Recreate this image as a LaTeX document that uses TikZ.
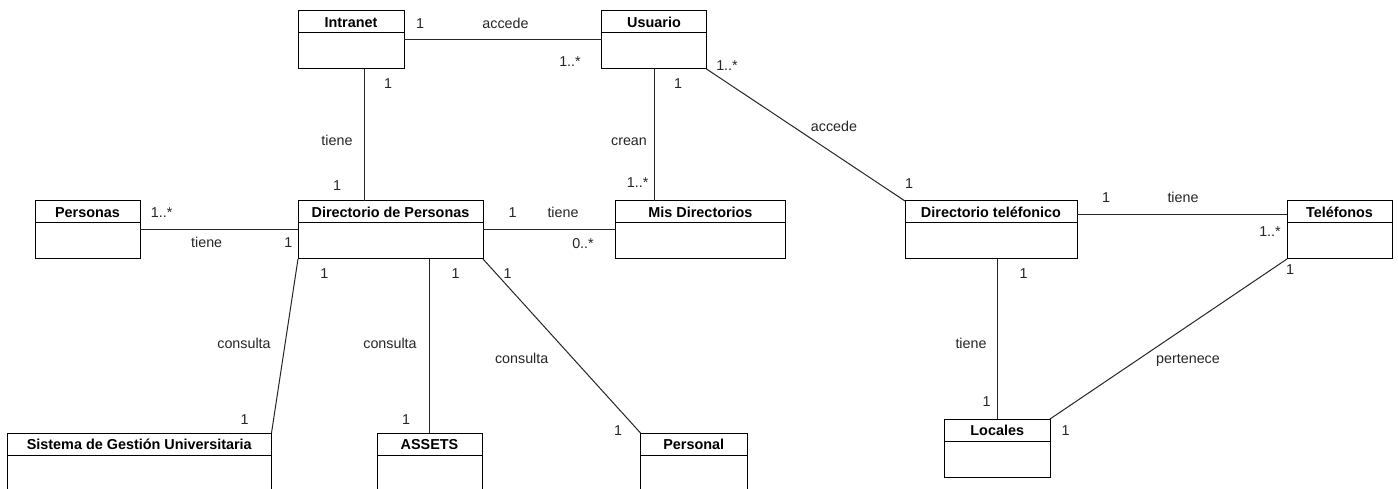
\documentclass[tikz,border=0pt]{standalone}
\usepackage{fontspec}
\setmainfont{Liberation Sans}
\usetikzlibrary{calc}
\tikzset{
  clsbox/.style={draw=black, line width=1pt, inner sep=0pt, outer sep=0pt, anchor=north west, minimum height=58pt},
  clsline/.style={draw=black, line width=1pt},
  clstitle/.style={inner sep=0pt, font=\fontsize{14.4}{17}\selectfont\bfseries, text height=10.3pt, text depth=0pt},
  conn/.style={draw=black!85, line width=1pt},
  lbl/.style={inner sep=0pt, font=\fontsize{14.3}{17}\selectfont, text=black!85, text height=10.3pt, text depth=0pt}
}
\newcommand\umlclass[5]{% name, x, y, width, title
  \node[clsbox, minimum width=#4pt] (#1) at (#2,#3) {};
  \draw[clsline] ($(#1.north west)+(0,22)$) -- ($(#1.north east)+(0,22)$);
  \node[clstitle] (#1-t) at ($(#1.north)+(0,11.5)$) {#5};
}
\begin{document}
\begin{tikzpicture}[x=1pt,y=-1pt]
\useasboundingbox (0,0) rectangle (1398,489);
\clip (0,0) rectangle (1398,489);
\fill[white] (0,0) rectangle (1398,489);

% classes
\umlclass{intranet}{298}{11}{106}{Intranet}
\umlclass{usuario}{601.5}{11}{105}{Usuario}
\umlclass{personas}{35}{201}{105}{Personas}
\umlclass{dirper}{298}{201}{185}{Directorio de Personas}
\umlclass{misdir}{615.5}{201}{170}{Mis Directorios}
\umlclass{dirtel}{905}{201}{172}{Directorio teléfonico}
\umlclass{telef}{1287}{201}{105}{Teléfonos}
\umlclass{sgu}{7}{433}{264.5}{Sistema de Gestión Universitaria}
\umlclass{assets}{377}{433}{105}{ASSETS}
\umlclass{personal}{640.5}{433}{106.5}{Personal}
\umlclass{locales}{944.5}{419}{105.5}{Locales}

% connectors
\draw[conn] (intranet.east) -- (usuario.west);
\draw[conn] ($(intranet.south west)+(66.7,0)$) coordinate (c1) -- (c1 |- dirper.north);
\draw[conn] (usuario.south) -- (usuario.south |- misdir.north);
\draw[conn] (usuario.south east) -- (dirtel.north west);
\draw[conn] (personas.east) -- (dirper.west);
\draw[conn] (dirper.east) -- (misdir.west);
\draw[conn] ($(dirtel.north east)+(0,14)$) coordinate (c2) -- (c2 -| telef.west);
\draw[conn] (dirper.south west) -- (sgu.north east);
\draw[conn] (assets.north) -- (assets.north |- dirper.south);
\draw[conn] (dirper.south east) -- (personal.north west);
\draw[conn] (locales.north) -- (locales.north |- dirtel.south);
\draw[conn] (locales.north east) -- (telef.south west);

% labels
\node[lbl] (l1) at (420,23.3) {1};
\node[lbl] (l2) at (505.5,23.3) {accede};
\node[lbl] (l3) at (570,61.7) {1..*};
\node[lbl] (l4) at (388,83.3) {1};
\node[lbl] (l5) at (337,140) {tiene};
\node[lbl] (l6) at (337,185) {1};
\node[lbl] (l7) at (678,83.3) {1};
\node[lbl] (l8) at (629,140) {crean};
\node[lbl] (l9) at (637.7,182.7) {1..*};
\node[lbl] (l10) at (727,65) {1..*};
\node[lbl] (l11) at (834,126) {accede};
\node[lbl] (l12) at (909,183.3) {1};
\node[lbl] (l13) at (161.7,212.7) {1..*};
\node[lbl] (l14) at (206.7,242.3) {tiene};
\node[lbl] (l15) at (288.3,242.3) {1};
\node[lbl] (l16) at (512.7,212.7) {1};
\node[lbl] (l17) at (563,212.7) {tiene};
\node[lbl] (l18) at (583,243) {0..*};
\node[lbl] (l19) at (324.3,273.3) {1};
\node[lbl] (l20) at (244,343.3) {consulta};
\node[lbl] (l21) at (244.6,419) {1};
\node[lbl] (l22) at (455.7,273.3) {1};
\node[lbl] (l23) at (390,343.3) {consulta};
\node[lbl] (l24) at (406,419) {1};
\node[lbl] (l25) at (507.7,273.3) {1};
\node[lbl] (l26) at (521.7,358.3) {consulta};
\node[lbl] (l27) at (618,430.7) {1};
\node[lbl] (l28) at (1106,197) {1};
\node[lbl] (l29) at (1183,197) {tiene};
\node[lbl] (l30) at (1270,231.7) {1..*};
\node[lbl] (l31) at (1023.7,273) {1};
\node[lbl] (l32) at (971,343) {tiene};
\node[lbl] (l33) at (986.7,401.7) {1};
\node[lbl] (l34) at (1290,269) {1};
\node[lbl] (l35) at (1188,358) {pertenece};
\node[lbl] (l36) at (1065.7,430.7) {1};
\end{tikzpicture}
\end{document}
